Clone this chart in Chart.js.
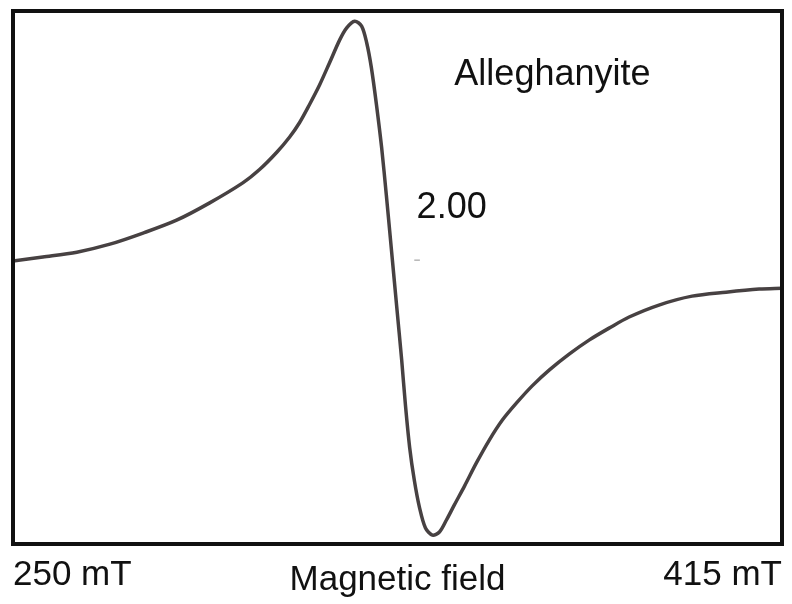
<!DOCTYPE html>
<html>
<head>
<meta charset="utf-8">
<script src="https://cdn.jsdelivr.net/npm/chart.js@4/dist/chart.umd.min.js"></script>
<style>
  html, body { margin: 0; padding: 0; background: #fff; }
  #wrap { width: 792px; height: 604px; }
</style>
</head>
<body>
<div id="wrap"><canvas id="epr" width="792" height="604"></canvas></div>
<script>
// EPR derivative spectrum, field in mT, signal in arbitrary units
const field = [250.0, 256.4, 263.7, 270.8, 277.9, 285.1, 292.2, 299.3, 302.9, 306.6,
  309.4, 311.5, 313.6, 315.8, 317.9, 320.1, 321.6, 323.3, 324.8, 325.9,
  326.9, 328.0, 329.1, 330.1, 331.2, 332.3, 333.4, 334.2, 335.1, 336.1,
  337.2, 338.5, 340.0, 341.5, 343.0, 344.7, 346.9, 349.4, 352.2, 355.0,
  358.0, 361.4, 365.1, 369.4, 373.6, 377.9, 382.2, 388.6, 395.7, 403.0,
  410.1, 415.0];
const signal = [3.7, 4.6, 5.7, 7.5, 10.0, 12.9, 16.8, 21.3, 24.3, 28.2,
  31.7, 34.9, 38.9, 43.4, 48.3, 53.5, 56.2, 57.7, 56.6, 52.8,
  47.2, 38.8, 29.2, 18.6, 6.2, -6.2, -18.6, -28.7, -38.2, -45.6,
  -51.7, -56.4, -58.0, -57.3, -54.6, -51.2, -46.9, -41.8, -36.6, -32.1,
  -28.3, -24.4, -20.8, -17.2, -14.1, -11.4, -8.9, -6.2, -4.2, -3.3,
  -2.6, -2.4];

const fieldTicks = [250, 415];
const sampleName = "Alleghanyite";
const gLabel = "2.00";
// g = 2.00 marker position (field, signal)
const gMarkField = [336.1, 337.3];
const gMarkLevel = 3.9;

const FONT = '"Liberation Sans", Arial, Helvetica, sans-serif';

const notes = [
  { text: sampleName, x: 344.7, y: 43.3 },
  { text: gLabel, x: 336.6, y: 13.4 }
];

// frame around the plot + text labels inside it
const framePlugin = {
  id: "frame",
  afterDatasetsDraw(chart) {
    const { ctx, chartArea: a, scales } = chart;
    ctx.save();
    ctx.strokeStyle = "#111";
    ctx.lineWidth = 4;
    ctx.strokeRect(a.left, a.top, a.right - a.left, a.bottom - a.top);

    ctx.fillStyle = "#111";
    ctx.font = "36px " + FONT;
    ctx.textAlign = "left";
    ctx.textBaseline = "alphabetic";
    notes.forEach(n => {
      ctx.fillText(n.text, scales.x.getPixelForValue(n.x), scales.y.getPixelForValue(n.y));
    });
    ctx.restore();
  }
};

new Chart(document.getElementById("epr"), {
  type: "line",
  data: {
    datasets: [
      {
        data: field.map((f, i) => ({ x: f, y: signal[i] })),
        borderColor: "#474142",
        borderWidth: 3.5,
        pointRadius: 0,
        tension: 0.3,
        fill: false
      },
      {
        data: gMarkField.map(f => ({ x: f, y: gMarkLevel })),
        borderColor: "#b5b5b5",
        borderWidth: 1.5,
        pointRadius: 0
      }
    ]
  },
  options: {
    responsive: false,
    animation: false,
    layout: { padding: { left: 13, top: 11, right: 9, bottom: 0 } },
    plugins: { legend: { display: false }, tooltip: { enabled: false } },
    scales: {
      x: {
        type: "linear",
        min: 250,
        max: 415,
        grid: { display: false, drawTicks: false },
        border: { display: false },
        afterBuildTicks: s => { s.ticks = fieldTicks.map(v => ({ value: v })); },
        afterFit: s => { s.height = 60; },
        ticks: {
          autoSkip: false,
          maxRotation: 0,
          align: "inner",
          padding: 10,
          color: "#111",
          font: { family: FONT, size: 35 },
          callback: v => v + " mT"
        },
        title: {
          display: true,
          text: "Magnetic field",
          color: "#111",
          font: { family: FONT, size: 35 },
          padding: { top: 0, bottom: 3 }
        }
      },
      y: {
        display: false,
        min: -60,
        max: 60
      }
    }
  },
  plugins: [framePlugin]
});
</script>
</body>
</html>
